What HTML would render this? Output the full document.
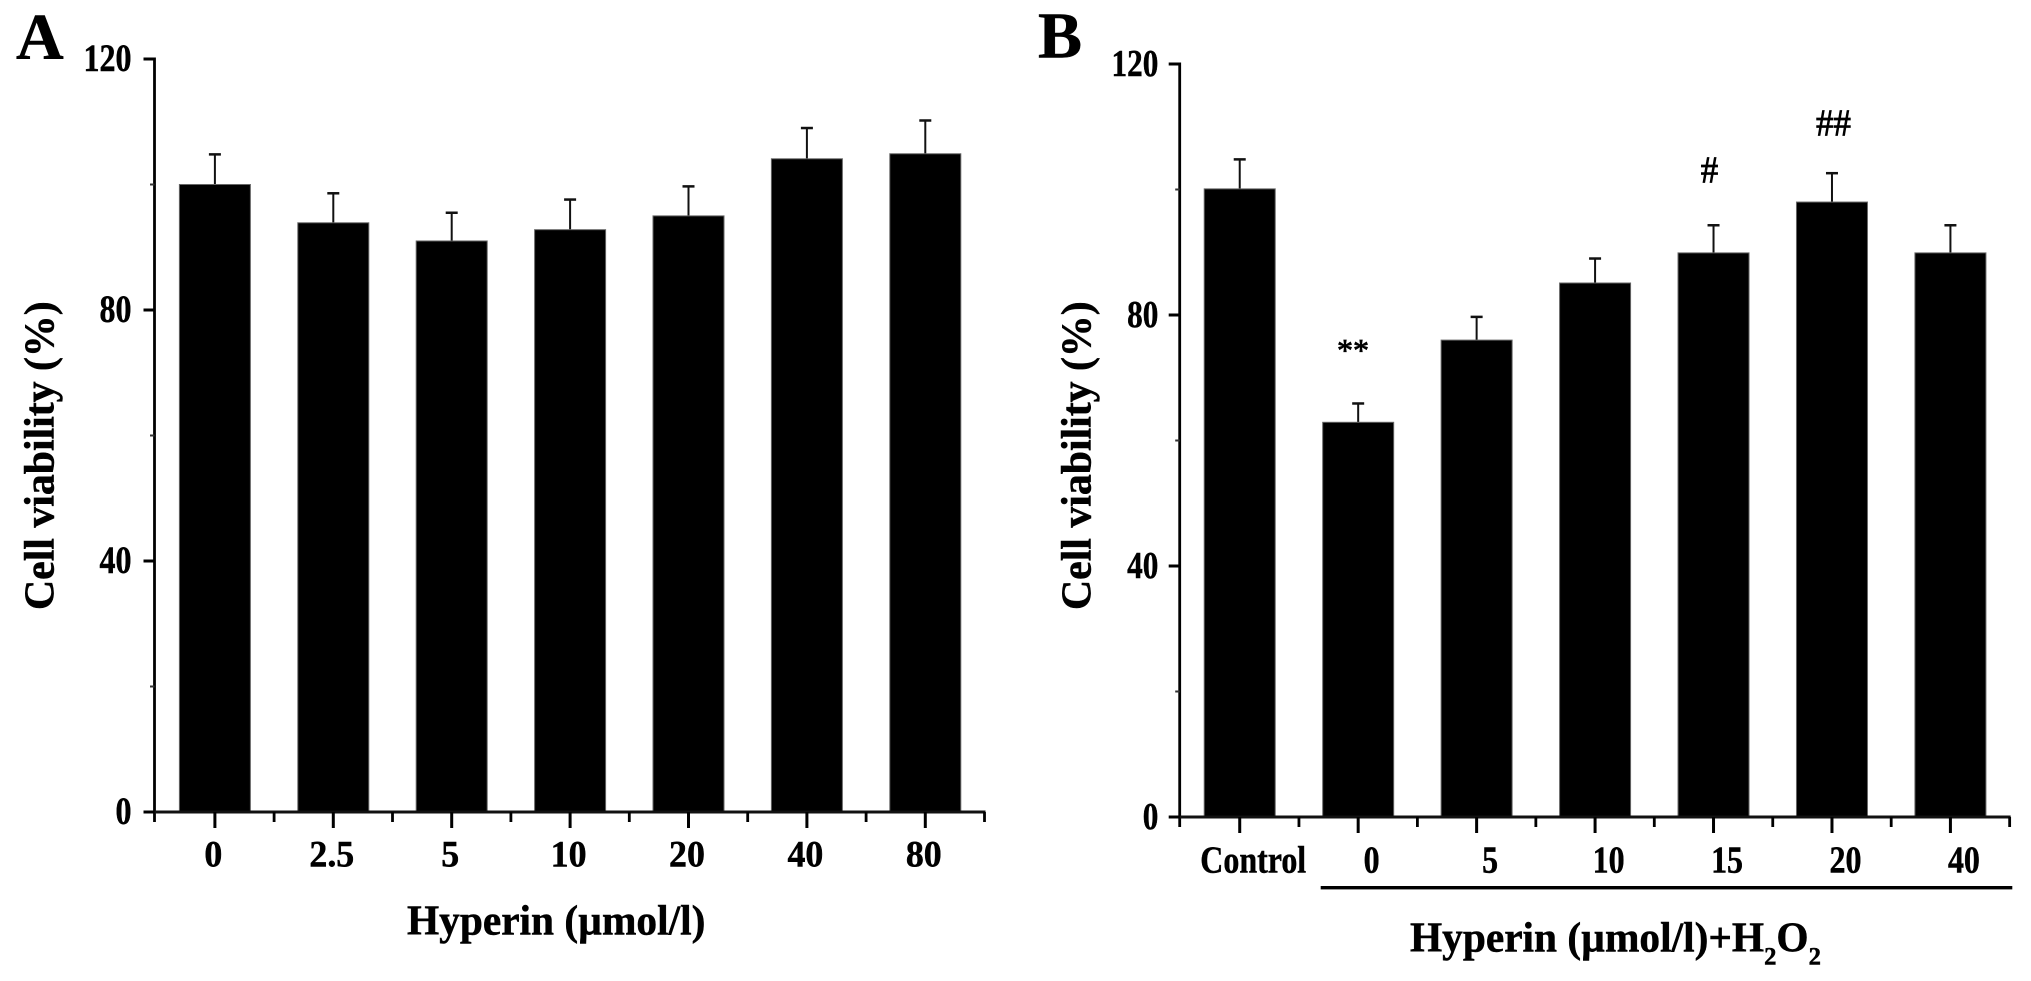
<!DOCTYPE html>
<html lang="en">
<head>
<meta charset="utf-8">
<title>Cell viability bar charts</title>
<style>
  html, body { margin: 0; padding: 0; background: #fff; width: 2031px; height: 981px; overflow: hidden; }
  svg { display: block; }
  text { font-family: "Liberation Serif", serif; font-weight: bold; fill: #000; stroke: #000; stroke-width: 0.5; }
  .mark { font-weight: normal; stroke-width: 0.8; }
</style>
</head>
<body>
<svg id="figure" xmlns="http://www.w3.org/2000/svg" width="2031" height="981" viewBox="0 0 2031 981">
  <rect x="0" y="0" width="2031" height="981" fill="#fff"/>

  <g id="panel-a">
    <text x="16" y="59" font-size="66">A</text>
    <text transform="translate(53.3,610) rotate(-90) scale(0.995,1)" x="0" y="0" font-size="42">Cell viability (%)</text>
    <text transform="translate(407,934.3) scale(0.985,1)" x="0" y="0" font-size="42">Hyperin (µmol/l)</text>
  </g>

  <g id="panel-b">
    <text x="1038" y="57.5" font-size="66">B</text>
    <text transform="translate(1090.7,610) rotate(-90) scale(0.995,1)" x="0" y="0" font-size="42">Cell viability (%)</text>
    <rect x="1320.7" y="886" width="691.6" height="3.4" fill="#000"/>
    <text transform="translate(1410,951.7) scale(0.985,1)" x="0" y="0" font-size="42">Hyperin (µmol/l)+H<tspan font-size="25" dy="12.6">2</tspan><tspan font-size="42" dy="-12.6">O</tspan><tspan font-size="25" dy="12.6">2</tspan></text>
    <text class="mark" x="1353" y="361" font-size="32" text-anchor="middle">**</text>
    <text class="mark" transform="translate(1709.5,182.7) scale(0.92,1)" x="0" y="0" font-size="38" text-anchor="middle">#</text>
    <text class="mark" transform="translate(1833.5,135.6) scale(0.92,1)" x="0" y="0" font-size="38" text-anchor="middle">##</text>
  </g>
</svg>

<script>
// Panel A data
const categoriesA = ['0', '2.5', '5', '10', '20', '40', '80'];
const valuesA = [100, 93.9, 91, 92.8, 95, 104.1, 104.9];
const errorsA = [4.8, 4.7, 4.5, 4.8, 4.7, 4.9, 5.3];

// Panel B data
const categoriesB = ['Control', '0', '5', '10', '15', '20', '40'];
const valuesB = [100.1, 62.9, 76, 85.1, 89.9, 98, 89.9];
const errorsB = [4.7, 3, 3.7, 3.9, 4.4, 4.6, 4.4];

// Shared value axis
const yMajorTicks = [0, 40, 80, 120];
const yMinorTicks = [20, 60, 100];
const yMax = 120;

const SVG_NS = 'http://www.w3.org/2000/svg';

function make(tag, parent, attrs) {
  const node = document.createElementNS(SVG_NS, tag);
  for (const key in attrs) node.setAttribute(key, attrs[key]);
  parent.appendChild(node);
  return node;
}

function drawPanel(cfg, categories, values, errors) {
  const parent = document.getElementById(cfg.id);
  const yScale = v => cfg.y0 - (v / yMax) * (cfg.y0 - cfg.yTop);
  const xCenter = i => cfg.x0 + (i + 0.5) * cfg.step;
  const xEdge = i => cfg.x0 + i * cfg.step;
  const xEnd = xEdge(categories.length);

  // bars and error bars
  categories.forEach((cat, i) => {
    const cx = xCenter(i);
    const top = yScale(values[i]);
    const errTop = yScale(values[i] + errors[i]);

    const stem = make('line', parent, { x1: cx, x2: cx, y1: top, y2: errTop, stroke: '#111', 'stroke-width': 2 });
    
    

    const cap = make('line', parent, { x1: cx - 6, x2: cx + 6, y1: errTop, y2: errTop, stroke: '#111', 'stroke-width': 2.5 });
    
    

    const bar = make('rect', parent, { x: cx - 35.5, y: top, width: 71, height: cfg.y0 - top, fill: '#000', stroke: '#666', 'stroke-width': 1 });
    
    
  });

  // y axis line
  const yAxis = make('line', parent, { x1: cfg.axisX, x2: cfg.axisX, y1: cfg.yTop - 1.5, y2: cfg.y0 + 10, stroke: '#000', 'stroke-width': 2.8 });
  
  

  // x axis line
  const xAxis = make('line', parent, { x1: cfg.axisX, x2: xEnd + 1, y1: cfg.y0, y2: cfg.y0, stroke: '#111', 'stroke-width': 3 });
  
  

  // y ticks and labels
  yMajorTicks.forEach(v => {
    const y = yScale(v);
    const tick = make('line', parent, { x1: cfg.axisX - 11, x2: cfg.axisX, y1: y, y2: y, stroke: '#000', 'stroke-width': 3 });
    
    

    const label = make('text', parent, {
      transform: 'translate(' + cfg.yLabelX + ',' + (y + 12) + ') scale(' + cfg.yLabelScale + ',1)',
      'font-size': cfg.yLabelSize,
      'text-anchor': 'end'
    });
    label.textContent = String(v);
    
    
  });

  yMinorTicks.forEach(v => {
    const y = yScale(v);
    const tick = make('line', parent, { x1: cfg.axisX - 4.5, x2: cfg.axisX, y1: y, y2: y, stroke: '#333', 'stroke-width': 2 });
    
    
  });

  // x ticks and labels
  categories.forEach((cat, i) => {
    const cx = xCenter(i);
    const tick = make('line', parent, { x1: cx, x2: cx, y1: cfg.y0, y2: cfg.y0 + 16, stroke: '#000', 'stroke-width': 3 });
    
    

    const label = make('text', parent, {
      transform: 'translate(' + (cx + cfg.xLabelOffset) + ',' + cfg.xLabelY + ') scale(' + cfg.xLabelScale + ',1)',
      'font-size': cfg.xLabelSize,
      'text-anchor': 'middle'
    });
    label.textContent = cat;
    
    
  });

  for (let i = 1; i <= categories.length; i++) {
    const x = xEdge(i);
    const tick = make('line', parent, { x1: x, x2: x, y1: cfg.y0, y2: cfg.y0 + 10, stroke: '#000', 'stroke-width': 2.8 });
    
    
  }
}

drawPanel({
  id: 'panel-a', key: 'a',
  x0: 155.7, step: 118.4, axisX: 154.5,
  y0: 812, yTop: 59,
  yLabelX: 131.5, yLabelScale: 0.82, yLabelSize: 39,
  xLabelY: 866.7, xLabelOffset: -1.5, xLabelScale: 0.97, xLabelSize: 37
}, categoriesA, valuesA, errorsA);

drawPanel({
  id: 'panel-b', key: 'b',
  x0: 1180.5, step: 118.45, axisX: 1179.7,
  y0: 817, yTop: 64,
  yLabelX: 1158.3, yLabelScale: 0.81, yLabelSize: 38.5,
  xLabelY: 872.7, xLabelOffset: 13.5, xLabelScale: 0.83, xLabelSize: 38.5
}, categoriesB, valuesB, errorsB);
</script>
</body>
</html>
